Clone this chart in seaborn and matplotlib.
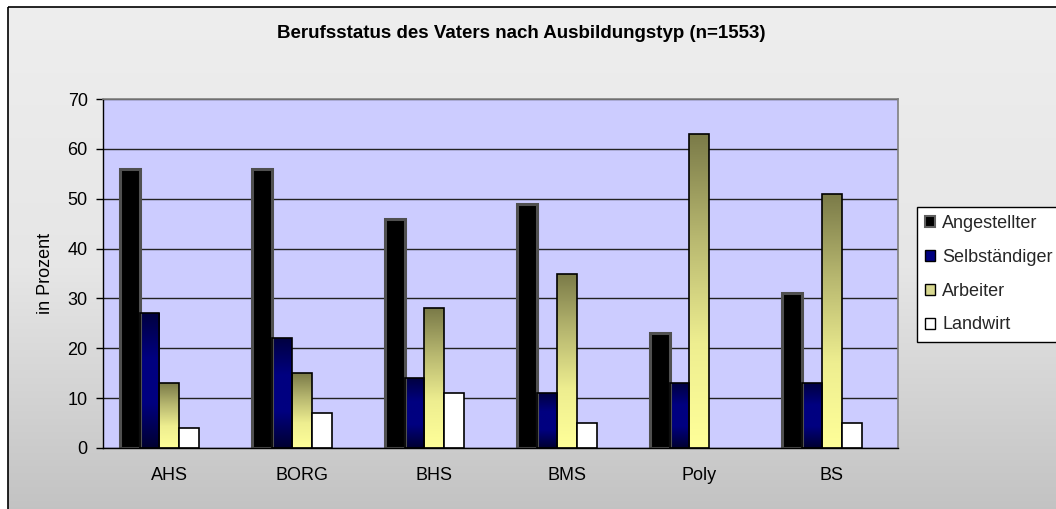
import numpy as np
import pandas as pd
import matplotlib
matplotlib.use("Agg")
import matplotlib.pyplot as plt
import seaborn as sns
from matplotlib.patches import Rectangle, Patch
from matplotlib.colors import LinearSegmentedColormap

# ---------------- data ----------------
schultypen = ["AHS", "BORG", "BHS", "BMS", "Poly", "BS"]
status = ["Angestellter", "Selbständiger", "Arbeiter", "Landwirt"]
angestellter = [56, 56, 46, 49, 23, 31]
selbstaendiger = [27, 22, 14, 11, 13, 13]
arbeiter = [13, 15, 28, 35, 63, 51]
landwirt = [4, 7, 11, 5, 0, 5]
yticks = [0, 10, 20, 30, 40, 50, 60, 70]
title = "Berufsstatus des Vaters nach Ausbildungstyp (n=1553)"
ylabel = "in Prozent"

series = {"Angestellter": angestellter, "Selbständiger": selbstaendiger,
          "Arbeiter": arbeiter, "Landwirt": landwirt}
df = pd.DataFrame([(s, st, v) for st in status for s, v in zip(schultypen, series[st])],
                  columns=["Schultyp", "Status", "Prozent"])

# ---------------- style ----------------
sns.set_theme(style="white")
plt.rcParams["font.family"] = ["Liberation Sans", "DejaVu Sans"]
FS = 13

W, H = 1056, 509
fig = plt.figure(figsize=(W / 100, H / 100), dpi=100)
fig.patch.set_facecolor("white")

# background gradient + frame
bg = fig.add_axes([0, 0, 1, 1], zorder=-10)
grad = np.linspace(0, 1, 256).reshape(-1, 1)
cmap_bg = LinearSegmentedColormap.from_list("bg", ["#eeeeee", "#e6e6e6", "#c0c0c0"])
bg.imshow(grad, cmap=cmap_bg, extent=(8, W + 20, H + 20, 7), aspect="auto")
bg.add_patch(Rectangle((8, 7), W + 50, H + 50, fill=False, edgecolor="black", lw=1.2))
bg.set_xlim(0, W)
bg.set_ylim(H, 0)
bg.axis("off")

# main axes
ax = fig.add_axes([103 / W, 61 / H, 795 / W, 349 / H])
ax.set_facecolor("#ccccff")

palette = {"Angestellter": "#000000", "Selbständiger": "#000080",
           "Arbeiter": "#d8d890", "Landwirt": "#ffffff"}
sns.barplot(data=df, x="Schultyp", y="Prozent", hue="Status", order=schultypen,
            hue_order=status, palette=palette, width=0.6, saturation=1,
            legend=False, ax=ax)

cmaps = {
    "Selbständiger": LinearSegmentedColormap.from_list("s", ["#000040", "#000080", "#000080", "#000030"]),
    "Arbeiter": LinearSegmentedColormap.from_list("a", ["#7a7a48", "#b8b870", "#eeee90", "#ffff99"]),
}
shift = -0.074
for st, cont in zip(status, ax.containers):
    for p in cont.patches:
        p.set_x(p.get_x() + shift)
        h = p.get_height()
        if h <= 0:
            p.set_visible(False)
            continue
        x0, w = p.get_x(), p.get_width()
        if st == "Angestellter":
            p.set_facecolor("#000000")
            p.set_edgecolor("#505050")
            p.set_linewidth(2.2)
            p.set_zorder(2)
        elif st in cmaps:
            p.set_facecolor("none")
            p.set_edgecolor("#000000")
            p.set_linewidth(1.2)
            p.set_zorder(2)
            im = ax.imshow(grad, cmap=cmaps[st], extent=(x0, x0 + w, 0, h),
                           aspect="auto", zorder=1.5, origin="upper")
            im.set_clip_path(p)
        else:
            p.set_facecolor("#ffffff")
            p.set_edgecolor("#000000")
            p.set_linewidth(1.2)
            p.set_zorder(2)

ax.set_xlim(-0.5, len(schultypen) - 0.5)
ax.set_ylim(0, 70)
ax.set_yticks(yticks)
ax.set_axisbelow(True)
ax.yaxis.grid(True, color="#222222", lw=1)
ax.xaxis.grid(False)

for side in ["top", "right"]:
    ax.spines[side].set_color("#808080")
    ax.spines[side].set_linewidth(1.2)
for side in ["left", "bottom"]:
    ax.spines[side].set_color("#000000")
    ax.spines[side].set_linewidth(1)

ax.set_xticks(np.arange(-0.5, len(schultypen), 1.0), minor=True)
ax.tick_params(axis="x", which="major", length=0, pad=14, labelsize=FS, colors="black")
ax.tick_params(axis="x", which="minor", length=5, direction="out", color="black", width=1)
ax.tick_params(axis="y", which="major", length=5, direction="out", pad=6,
               labelsize=FS, colors="black", left=True, width=1)
ax.set_xlabel("")
ax.set_ylabel(ylabel, fontsize=FS, color="black", labelpad=10)

fig.text(521 / W, 1 - 34 / H, title, ha="center", va="center",
         fontsize=13.5, fontweight="bold", color="black")

handles = [Patch(facecolor="#000000", edgecolor="#606060", lw=1.5),
           Patch(facecolor="#000080", edgecolor="#000000", lw=1),
           Patch(facecolor="#d8d890", edgecolor="#000000", lw=1),
           Patch(facecolor="#ffffff", edgecolor="#000000", lw=1)]
leg = fig.legend(handles, status, loc="upper left", bbox_to_anchor=(917 / W, 1 - 207 / H),
                 frameon=True, fancybox=False, edgecolor="black", facecolor="white",
                 fontsize=FS, handlelength=0.55, handleheight=0.55, handletextpad=0.4,
                 labelspacing=0.93, borderpad=0.45, borderaxespad=0, framealpha=1)
leg.get_frame().set_linewidth(1)

fig.savefig("out.png", dpi=100)
